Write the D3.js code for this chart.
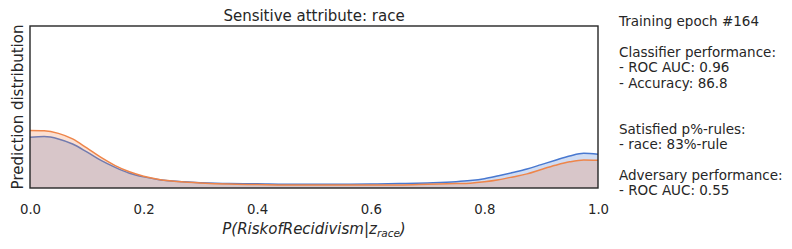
<!DOCTYPE html>
<html><head><meta charset="utf-8">
<script src="https://cdn.jsdelivr.net/npm/d3@7"></script>
<style>
html,body{margin:0;padding:0;background:#fff;}
text{font-family:"DejaVu Sans",sans-serif;fill:#262626;}
</style></head>
<body>
<svg id="c" width="792" height="249"></svg>
<script>
const xs = [0,0.025,0.05,0.075,0.1,0.125,0.15,0.175,0.2,0.225,0.25,0.3,0.35,0.4,0.45,0.5,0.55,0.6,0.65,0.7,0.75,0.775,0.8,0.825,0.85,0.875,0.9,0.925,0.95,0.975,1.0];
const orangeDensity = [2.48,2.47,2.36,2.12,1.73,1.32,0.97,0.70,0.51,0.38,0.30,0.22,0.17,0.15,0.13,0.13,0.13,0.13,0.13,0.16,0.19,0.21,0.27,0.36,0.48,0.61,0.80,0.98,1.13,1.21,1.20];
const blueDensity = [2.19,2.22,2.12,1.90,1.56,1.19,0.89,0.64,0.48,0.37,0.30,0.23,0.19,0.18,0.16,0.16,0.16,0.17,0.19,0.22,0.27,0.32,0.40,0.53,0.67,0.82,1.01,1.20,1.38,1.50,1.46];
const xTicks = [0,0.2,0.4,0.6,0.8,1.0];
const yMax = 7;
const titleText = "Sensitive attribute: race";
const yLabelText = "Prediction distribution";
const infoLines = ["Training epoch #164","","Classifier performance:","- ROC AUC: 0.96","- Accuracy: 86.8","","","Satisfied p%-rules:","- race: 83%-rule","","Adversary performance:","- ROC AUC: 0.55"];

const svg = d3.select("#c");
const L = 30, R = 598, T = 26, B = 188;
const x = d3.scaleLinear().domain([0,1]).range([L,R]);
const y = d3.scaleLinear().domain([0,yMax]).range([B,T]);

const series = [
  {vals: blueDensity, color: "#4878d0"},
  {vals: orangeDensity, color: "#ee854a"}
];
const area = d3.area().x(d=>x(d[0])).y0(y(0)).y1(d=>y(d[1])).curve(d3.curveMonotoneX);
const line = d3.line().x(d=>x(d[0])).y(d=>y(d[1])).curve(d3.curveMonotoneX);
const g = svg.append("g");
series.forEach(s=>{
  const data = xs.map((v,i)=>[v,s.vals[i]]);
  g.append("path").attr("d",area(data)).attr("fill",s.color).attr("fill-opacity",0.25);
  g.append("path").attr("d",line(data)).attr("fill","none").attr("stroke",s.color).attr("stroke-width",1.5);
});

// frame
svg.append("rect").attr("x",L).attr("y",T).attr("width",R-L).attr("height",B-T)
  .attr("fill","none").attr("stroke","#262626").attr("stroke-width",1.4);

// x axis
const ax = svg.append("g").attr("transform",`translate(0,${B})`)
  .call(d3.axisBottom(x).tickValues(xTicks).tickFormat(d3.format(".1f")).tickSize(0).tickPadding(0));
ax.select(".domain").remove();
ax.selectAll("text").attr("dy",null).attr("y",25.5).attr("font-size","13.3px").attr("font-family","DejaVu Sans").style("fill","#262626");

// title
svg.append("text").attr("x",(L+R)/2).attr("y",21).attr("text-anchor","middle").attr("font-size","15px").text(titleText);

// y label
svg.append("text").attr("transform",`translate(23,${(T+B)/2}) rotate(-90)`).attr("text-anchor","middle").attr("font-size","15px").text(yLabelText);

// x label (math italic)
const xl = svg.append("text").attr("x",(L+R)/2).attr("y",234).attr("text-anchor","middle").attr("font-size","15px").attr("font-style","italic");
xl.append("tspan").text("P(RiskofRecidivism|z");
xl.append("tspan").attr("font-size","10.5px").attr("dy",3).text("race");
xl.append("tspan").attr("dy",-3).text(")");

// info text
const info = svg.append("text").attr("font-size","13.5px");
infoLines.forEach((t,i)=>{
  info.append("tspan").attr("x",619).attr("y",26+i*15.4).text(t===""?"\u00a0":t);
});
</script>
</body></html>
